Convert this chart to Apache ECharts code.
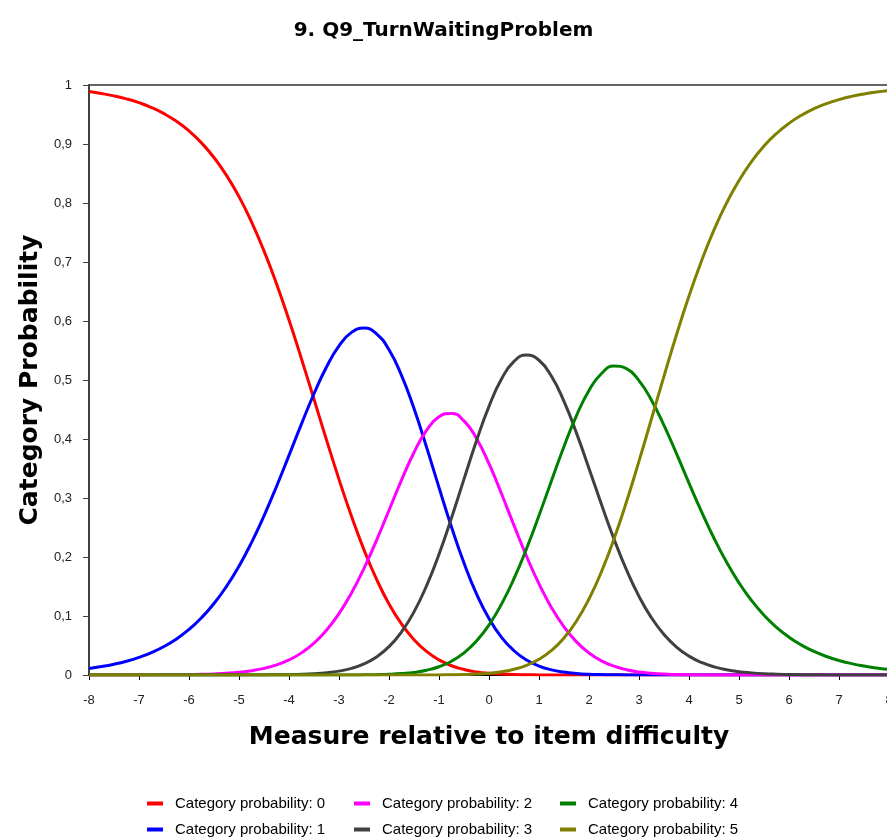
<!DOCTYPE html>
<html>
<head>
<meta charset="utf-8">
<script src="https://cdn.jsdelivr.net/npm/echarts@6/dist/echarts.min.js"></script>
<style>
html, body { margin: 0; padding: 0; background: #fff; }
#chart { width: 887px; height: 838px; }
</style>
</head>
<body>
<div id="chart"></div>
<script>
// measure relative to item difficulty, -8 .. 8 by 0.25 (one line = one unit)
var measures = [
    -8, -7.75, -7.5, -7.25,
    -7, -6.75, -6.5, -6.25,
    -6, -5.75, -5.5, -5.25,
    -5, -4.75, -4.5, -4.25,
    -4, -3.75, -3.5, -3.25,
    -3, -2.75, -2.5, -2.25,
    -2, -1.75, -1.5, -1.25,
    -1, -0.75, -0.5, -0.25,
    0, 0.25, 0.5, 0.75,
    1, 1.25, 1.5, 1.75,
    2, 2.25, 2.5, 2.75,
    3, 3.25, 3.5, 3.75,
    4, 4.25, 4.5, 4.75,
    5, 5.25, 5.5, 5.75,
    6, 6.25, 6.5, 6.75,
    7, 7.25, 7.5, 7.75,
    8
];

var cat0 = [
    0.9888, 0.9856, 0.9816, 0.9765,
    0.9700, 0.9618, 0.9514, 0.9384,
    0.9221, 0.9019, 0.8770, 0.8469,
    0.8108, 0.7681, 0.7188, 0.6631,
    0.6016, 0.5357, 0.4673, 0.3985,
    0.3316, 0.2689, 0.2121, 0.1624,
    0.1205, 0.0865, 0.0599, 0.0399,
    0.0256, 0.0157, 0.0093, 0.0052,
    0.0028, 0.0015, 0.0007, 0.0004,
    0.0002, 0.0001, 0, 0,
    0, 0, 0, 0,
    0, 0, 0, 0,
    0, 0, 0, 0,
    0, 0, 0, 0,
    0, 0, 0, 0,
    0, 0, 0, 0,
    0
];
var cat1 = [
    0.0112, 0.0143, 0.0183, 0.0234,
    0.0299, 0.0380, 0.0483, 0.0612,
    0.0772, 0.0970, 0.1211, 0.1502,
    0.1845, 0.2245, 0.2698, 0.3195,
    0.3723, 0.4257, 0.4767, 0.5220,
    0.5578, 0.5807, 0.5881, 0.5783,
    0.5511, 0.5078, 0.4515, 0.3865,
    0.3178, 0.2508, 0.1897, 0.1375,
    0.0957, 0.0639, 0.0411, 0.0254,
    0.0152, 0.0087, 0.0049, 0.0026,
    0.0013, 0.0007, 0.0003, 0.0002,
    0.0001, 0, 0, 0,
    0, 0, 0, 0,
    0, 0, 0, 0,
    0, 0, 0, 0,
    0, 0, 0, 0,
    0
];
var cat2 = [
    0, 0, 0, 0.0001,
    0.0001, 0.0002, 0.0003, 0.0004,
    0.0007, 0.0012, 0.0019, 0.0030,
    0.0047, 0.0073, 0.0112, 0.0171,
    0.0255, 0.0375, 0.0539, 0.0758,
    0.1040, 0.1390, 0.1807, 0.2282,
    0.2792, 0.3303, 0.3772, 0.4145,
    0.4377, 0.4434, 0.4307, 0.4010,
    0.3582, 0.3073, 0.2536, 0.2015,
    0.1544, 0.1141, 0.0814, 0.0561,
    0.0373, 0.0240, 0.0149, 0.0090,
    0.0052, 0.0030, 0.0016, 0.0009,
    0.0005, 0.0002, 0.0001, 0.0001,
    0, 0, 0, 0,
    0, 0, 0, 0,
    0, 0, 0, 0,
    0
];
var cat3 = [
    0, 0, 0, 0,
    0, 0, 0, 0,
    0, 0, 0, 0,
    0, 0.0001, 0.0002, 0.0003,
    0.0006, 0.0011, 0.0021, 0.0037,
    0.0066, 0.0113, 0.0189, 0.0306,
    0.0480, 0.0730, 0.1070, 0.1510,
    0.2047, 0.2663, 0.3320, 0.3970,
    0.4554, 0.5016, 0.5315, 0.5423,
    0.5335, 0.5062, 0.4636, 0.4100,
    0.3502, 0.2890, 0.2306, 0.1781,
    0.1333, 0.0969, 0.0686, 0.0473,
    0.0320, 0.0212, 0.0138, 0.0089,
    0.0056, 0.0036, 0.0022, 0.0014,
    0.0009, 0.0005, 0.0003, 0.0002,
    0.0001, 0.0001, 0, 0,
    0
];
var cat4 = [
    0, 0, 0, 0,
    0, 0, 0, 0,
    0, 0, 0, 0,
    0, 0, 0, 0,
    0, 0, 0, 0,
    0.0001, 0.0001, 0.0003, 0.0006,
    0.0012, 0.0024, 0.0044, 0.0081,
    0.0140, 0.0234, 0.0375, 0.0576,
    0.0848, 0.1201, 0.1633, 0.2140,
    0.2703, 0.3293, 0.3873, 0.4398,
    0.4823, 0.5111, 0.5236, 0.5192,
    0.4990, 0.4658, 0.4232, 0.3751,
    0.3253, 0.2769, 0.2318, 0.1914,
    0.1562, 0.1263, 0.1013, 0.0808,
    0.0641, 0.0507, 0.0399, 0.0314,
    0.0246, 0.0193, 0.0151, 0.0118,
    0.0092
];
var cat5 = [
    0, 0, 0, 0,
    0, 0, 0, 0,
    0, 0, 0, 0,
    0, 0, 0, 0,
    0, 0, 0, 0,
    0, 0, 0, 0,
    0, 0, 0, 0.0001,
    0.0002, 0.0004, 0.0008, 0.0016,
    0.0031, 0.0056, 0.0097, 0.0164,
    0.0266, 0.0416, 0.0628, 0.0915,
    0.1288, 0.1753, 0.2306, 0.2936,
    0.3624, 0.4343, 0.5066, 0.5767,
    0.6422, 0.7017, 0.7543, 0.7997,
    0.8381, 0.8702, 0.8965, 0.9178,
    0.9350, 0.9488, 0.9598, 0.9684,
    0.9753, 0.9807, 0.9849, 0.9882,
    0.9908
];

var names = ['Category probability: 0','Category probability: 1','Category probability: 2',
             'Category probability: 3','Category probability: 4','Category probability: 5'];
var colors = ['#ff0000','#0000ff','#ff00ff','#404040','#008000','#808000'];
var values = [cat0, cat1, cat2, cat3, cat4, cat5];

function pairs(ys) {
    return measures.map(function (x, i) { return [x, ys[i]]; });
}

var seriesList = values.map(function (ys, i) {
    return {
        name: names[i],
        type: 'line',
        data: pairs(ys),
        smooth: true,
        showSymbol: false,
        color: colors[i],
        lineStyle: { width: 3, color: colors[i] }
    };
});

function legendCol(left, items) {
    return {
        orient: 'vertical',
        left: left,
        top: 796,
        height: 60,
        padding: 0,
        itemGap: 11,
        itemWidth: 16,
        itemHeight: 4,
        icon: 'rect',
        data: items,
        textStyle: { fontFamily: 'Liberation Sans', fontSize: 15, color: '#000', padding: [0, 0, 0, 7] }
    };
}

var option = {
    backgroundColor: '#fff',
    animation: false,
    title: {
        text: '9. Q9_TurnWaitingProblem',
        left: 'center',
        top: 16,
        textStyle: { fontFamily: 'DejaVu Sans', fontSize: 20, fontWeight: 'bold', color: '#000' }
    },
    legend: [
        legendCol(147, [names[0], names[1]]),
        legendCol(354, [names[2], names[3]]),
        legendCol(560, [names[4], names[5]])
    ],
    grid: {
        left: 89, top: 85, width: 800, height: 590,
        outerBoundsMode: 'none',
        show: true, borderColor: '#333', borderWidth: 1.5
    },
    xAxis: {
        type: 'value',
        min: -8, max: 8, interval: 1,
        name: 'Measure relative to item difficulty',
        nameLocation: 'middle',
        nameGap: 50,
        nameTextStyle: { fontFamily: 'DejaVu Sans', fontSize: 25, fontWeight: 'bold', color: '#000' },
        axisLine: { onZero: false, lineStyle: { color: '#000', width: 2 } },
        axisTick: { length: 5, lineStyle: { color: '#000' } },
        axisLabel: { fontFamily: 'Liberation Sans', fontSize: 13, color: '#222', margin: 19 },
        splitLine: { show: false }
    },
    yAxis: {
        type: 'value',
        min: 0, max: 1, interval: 0.1,
        name: 'Category Probability',
        nameLocation: 'middle',
        nameGap: 46,
        nameTextStyle: { fontFamily: 'DejaVu Sans', fontSize: 25, fontWeight: 'bold', color: '#000' },
        axisLine: { show: true, onZero: false, lineStyle: { color: '#404040', width: 2 } },
        axisTick: { show: true, length: 6, lineStyle: { color: '#404040' } },
        axisLabel: {
            fontFamily: 'Liberation Sans', fontSize: 13, color: '#222', margin: 17,
            formatter: function (v) { return String(Math.round(v * 10) / 10).replace('.', ','); }
        },
        splitLine: { show: false }
    },
    series: seriesList
};

var myChart = echarts.init(document.getElementById('chart'));
myChart.setOption(option);
</script>
</body>
</html>
